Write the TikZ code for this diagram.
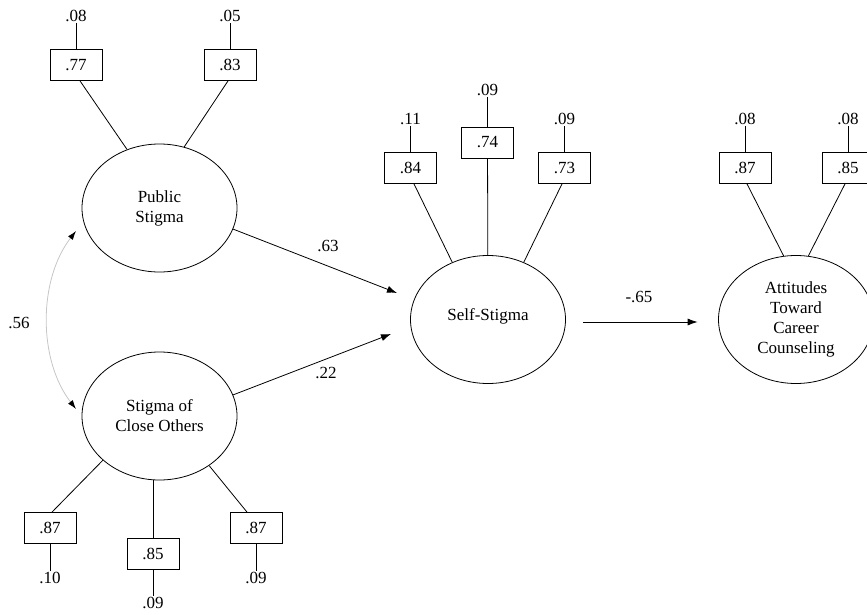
\documentclass[tikz,border=0pt]{standalone}
\usepackage{fontspec}
\setmainfont{Liberation Serif}
\usetikzlibrary{shapes.geometric,arrows.meta}
\begin{document}
\begin{tikzpicture}[x=1pt,y=-1pt,
  every node/.style={font=\fontsize{17}{20}\selectfont},
  latent/.style={draw,ellipse,line width=0.8pt,minimum width=155pt,minimum height=128pt,inner sep=0pt,align=center},
  ind/.style={draw,rectangle,line width=0.8pt,minimum width=52pt,minimum height=31pt,inner sep=0pt},
  err/.style={inner sep=1pt},
  link/.style={line width=0.8pt},
  regarrow/.style={line width=0.8pt,-{Latex[length=10pt,width=7pt]}},
  corrarrow/.style={gray!45,line width=0.8pt,{Latex[black,length=9pt,width=6pt]}-{Latex[black,length=9pt,width=6pt]}}
]
\useasboundingbox (0,0) rectangle (867,615);
\clip (0,0) rectangle (867,615);

% latent variables
\node[latent] (ps) at (159.5,208) {Public\\Stigma};
\node[latent] (cs) at (159.5,416) {Stigma of\\Close Others};
\node[latent] (ss) at (488,319.5) {\raisebox{10pt}{Self-Stigma}};
\node[latent] (at) at (796,319.5) {Attitudes\\Toward\\Career\\Counseling};

% indicators
\node[ind] (p1) at (76,65) {.77};
\node[ind] (p2) at (230,65) {.83};
\node[ind] (s1) at (410.5,168) {.84};
\node[ind] (s2) at (487.5,142.5) {.74};
\node[ind] (s3) at (564.5,168) {.73};
\node[ind] (a1) at (745,168) {.87};
\node[ind] (a2) at (848,168) {.85};
\node[ind] (c1) at (50,528) {.87};
\node[ind] (c2) at (153,553.5) {.85};
\node[ind] (c3) at (256,528) {.87};

% error variances
\node[err,anchor=south] (e1) at (76,23) {.08};
\node[err,anchor=south] (e2) at (230,23) {.05};
\node[err,anchor=south] (e3) at (410.5,126) {.11};
\node[err,anchor=south] (e4) at (487.5,97) {.09};
\node[err,anchor=south] (e5) at (564.5,126) {.09};
\node[err,anchor=south] (e6) at (745,126) {.08};
\node[err,anchor=south] (e7) at (848,126) {.08};
\node[err,anchor=north] (e8) at (50,571) {.10};
\node[err,anchor=north] (e9) at (153,596) {.09};
\node[err,anchor=north] (e10) at (256,571) {.09};

\draw[link] (e1) -- (p1);
\draw[link] (e2) -- (p2);
\draw[link] (e3) -- (s1);
\draw[link] (e4) -- (s2);
\draw[link] (e5) -- (s3);
\draw[link] (e6) -- (a1);
\draw[link] (e7) -- (a2);
\draw[link] (e8) -- (c1);
\draw[link] (e9) -- (c2);
\draw[link] (e10) -- (c3);

% loadings
\draw[link] ([xshift=4pt]p1.south) -- (ps.119.6);
\draw[link] ([xshift=-2pt]p2.south) -- (ps.68.9);
\draw[link] ([xshift=3.5pt]s1.south) -- (ss.122);
\draw[link] (s2) -- (ss);
\draw[link] ([xshift=-2.5pt]s3.south) -- (ss.58.7);
\draw[link] ([xshift=2pt]a1.south) -- (at.101.4);
\draw[link] ([xshift=-3pt]a2.south) -- (at.79.5);
\draw[link] ([xshift=2pt]c1.north) -- (cs.218.7);
\draw[link] (c2.north) -- (c2.north |- cs.south);
\draw[link] ([xshift=-9pt]c3.north) -- (cs.-45.3);

% structural paths
\coordinate (t1) at (397,293);
\coordinate (t2) at (391,334);
\draw[regarrow] (ps.-16.7) -- (t1);
\draw[regarrow] (cs.16.2) -- (t2);
\draw[regarrow,shorten <=17.5pt,shorten >=20.5pt] ([yshift=-2.5pt]ss.east) -- ([yshift=-2.5pt]at.west);

% correlation
\coordinate (d1) at (76,231);
\coordinate (d2) at (76,409);
\draw[corrarrow] (d1) .. controls (38,280) and (38,360) .. (d2);

% path labels
\node (l63) at (328,246) {.63};
\node (l22) at (326,373) {.22};
\node (l65) at (639,297) {-.65};
\node (l56) at (19,323) {.56};
\end{tikzpicture}
\end{document}
